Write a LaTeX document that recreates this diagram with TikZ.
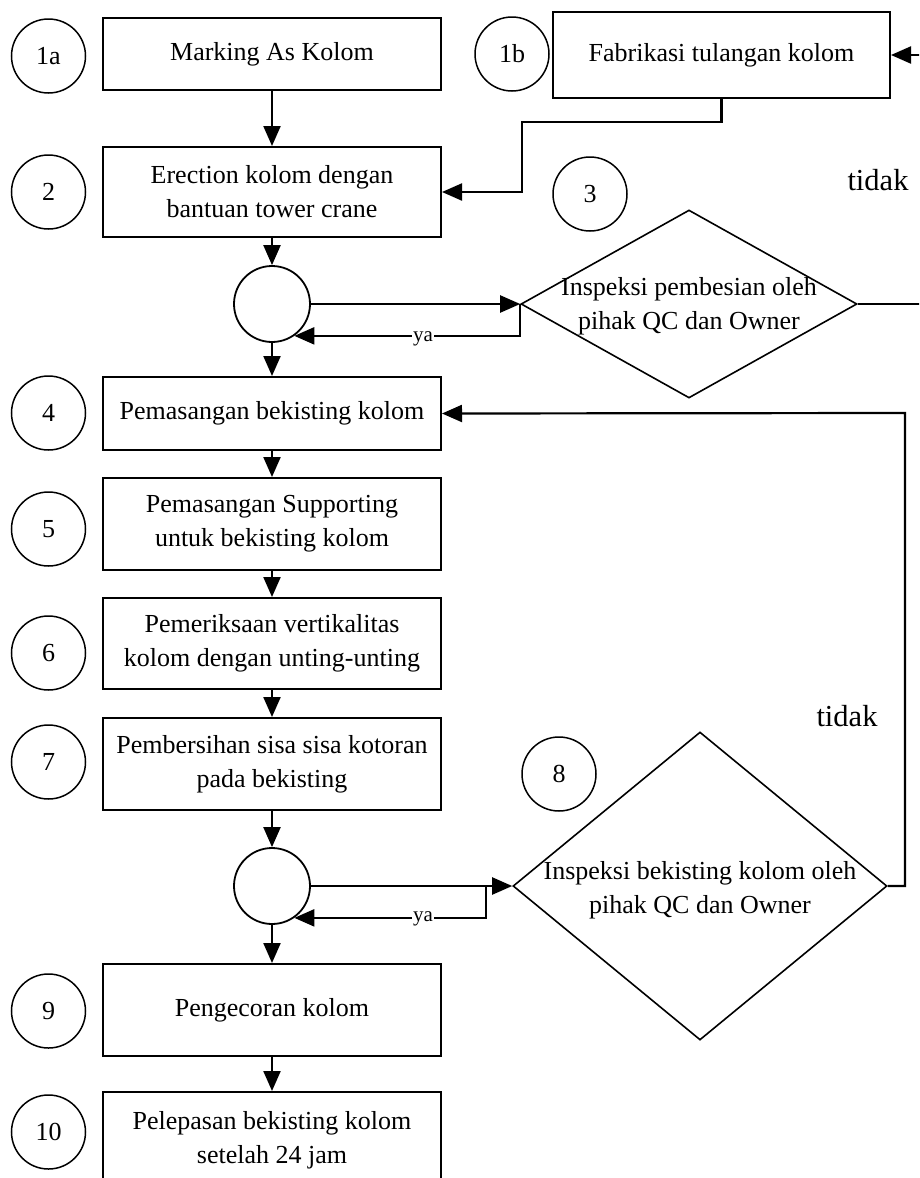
\documentclass[tikz,border=0pt]{standalone}
\usepackage{fontspec}
\setmainfont{Liberation Serif}
\usetikzlibrary{shapes.geometric,arrows.meta}
\begin{document}
\begin{tikzpicture}[x=1pt,y=-1pt,
  box/.style={draw,line width=2pt,minimum width=338pt,inner sep=0pt,align=center,font=\fontsize{26}{34}\selectfont},
  num/.style={draw,circle,line width=1.5pt,minimum size=74pt,inner sep=0pt,font=\fontsize{26}{30}\selectfont},
  junc/.style={draw,circle,line width=1.8pt,minimum size=76pt,inner sep=0pt},
  dec/.style={draw,diamond,line width=1.6pt,inner sep=0pt},
  dectext/.style={align=center,inner sep=0pt,font=\fontsize{26}{34}\selectfont},
  arr/.style={line width=2.2pt,-{Triangle[length=20pt,width=17pt]}},
  yalbl/.style={fill=white,inner sep=1pt,font=\fontsize{21}{22}\selectfont},
  nolbl/.style={inner sep=0pt,font=\fontsize{30.5}{34}\selectfont}]
\useasboundingbox (0,0) rectangle (919,1178);
\clip (0,0) rectangle (919,1178);

% boxes
\node[box,minimum height=72pt] (b1a) at (272,54) {Marking As Kolom};
\node[box,minimum width=337pt,minimum height=86pt] (b1b) at (721.5,55) {Fabrikasi tulangan kolom};
\node[box,minimum height=90pt] (b2) at (272,192) {Erection kolom dengan\\bantuan tower crane};
\node[box,minimum height=73pt] (b4) at (272,413.5) {Pemasangan bekisting kolom};
\node[box,minimum height=92pt] (b5) at (272,524) {Pemasangan Supporting\\untuk bekisting kolom};
\node[box,minimum height=91pt] (b6) at (272,643.5) {Pemeriksaan vertikalitas\\kolom dengan unting-unting};
\node[box,minimum height=92pt] (b7) at (272,764) {Pembersihan sisa sisa kotoran\\pada bekisting};
\node[box,minimum height=92pt] (b9) at (272,1010) {Pengecoran kolom};
\node[box,minimum height=96pt] (b10) at (272,1140) {Pelepasan bekisting kolom\\setelah 24 jam};

% number circles
\node[num] (c1a) at (48.5,56) {1a};
\node[num] (c1b) at (512,54) {1b};
\node[num] (c2) at (48.5,192) {2};
\node[num] (c3) at (590,194) {3};
\node[num] (c4) at (48.5,413) {4};
\node[num] (c5) at (48.5,529) {5};
\node[num] (c6) at (48.5,653) {6};
\node[num] (c7) at (48.5,762) {7};
\node[num] (c8) at (559,774) {8};
\node[num] (c9) at (48.5,1011) {9};
\node[num] (c10) at (48.5,1132) {10};

% junctions
\node[junc] (j1) at (272,304) {};
\node[junc] (j2) at (272,886) {};

% decisions
\node[dec,minimum width=336pt,minimum height=188pt] (d3) at (689,304) {};
\node[dectext] (t3) at (689,306) {Inspeksi pembesian oleh\\pihak QC dan Owner};
\node[dec,minimum width=374pt,minimum height=308pt] (d8) at (700,886) {};
\node[dectext] (t8) at (700,890) {Inspeksi bekisting kolom oleh\\pihak QC dan Owner};

% labels
\node[nolbl] (no1) at (878,180) {tidak};
\node[nolbl] (no2) at (847,716) {tidak};

% helper coordinates
\coordinate (k1) at (522,122);
\coordinate (r2) at (935,55);
\coordinate (r3) at (905,413);
\coordinate (k3) at (486,886);

% connectors
\draw[arr] (b1a.south) -- (b2.north);
\draw[arr] (b1b.south) |- (k1) |- (b2.east);
\draw[arr] (d3.east) -| (r2) -- (b1b.east);
\draw[arr] (b2.south) -- (j1.north);
\draw[arr] (j1.east) -- (d3.west);
\draw[arr] (d3.west) |- (j1.-55);
\node[yalbl] (ya1) at (423,339) {ya};
\draw[arr] (j1.south) -- (b4.north);
\draw[arr] (d8.east) -| (r3) -- (b4.east);
\draw[arr] (b4.south) -- (b5.north);
\draw[arr] (b5.south) -- (b6.north);
\draw[arr] (b6.south) -- (b7.north);
\draw[arr] (b7.south) -- (j2.north);
\draw[arr] (j2.east) -- (d8.west);
\draw[arr] (k3) |- (j2.-55);
\node[yalbl] (ya2) at (423,919) {ya};
\draw[arr] (j2.south) -- (b9.north);
\draw[arr] (b9.south) -- (b10.north);
\end{tikzpicture}
\end{document}
